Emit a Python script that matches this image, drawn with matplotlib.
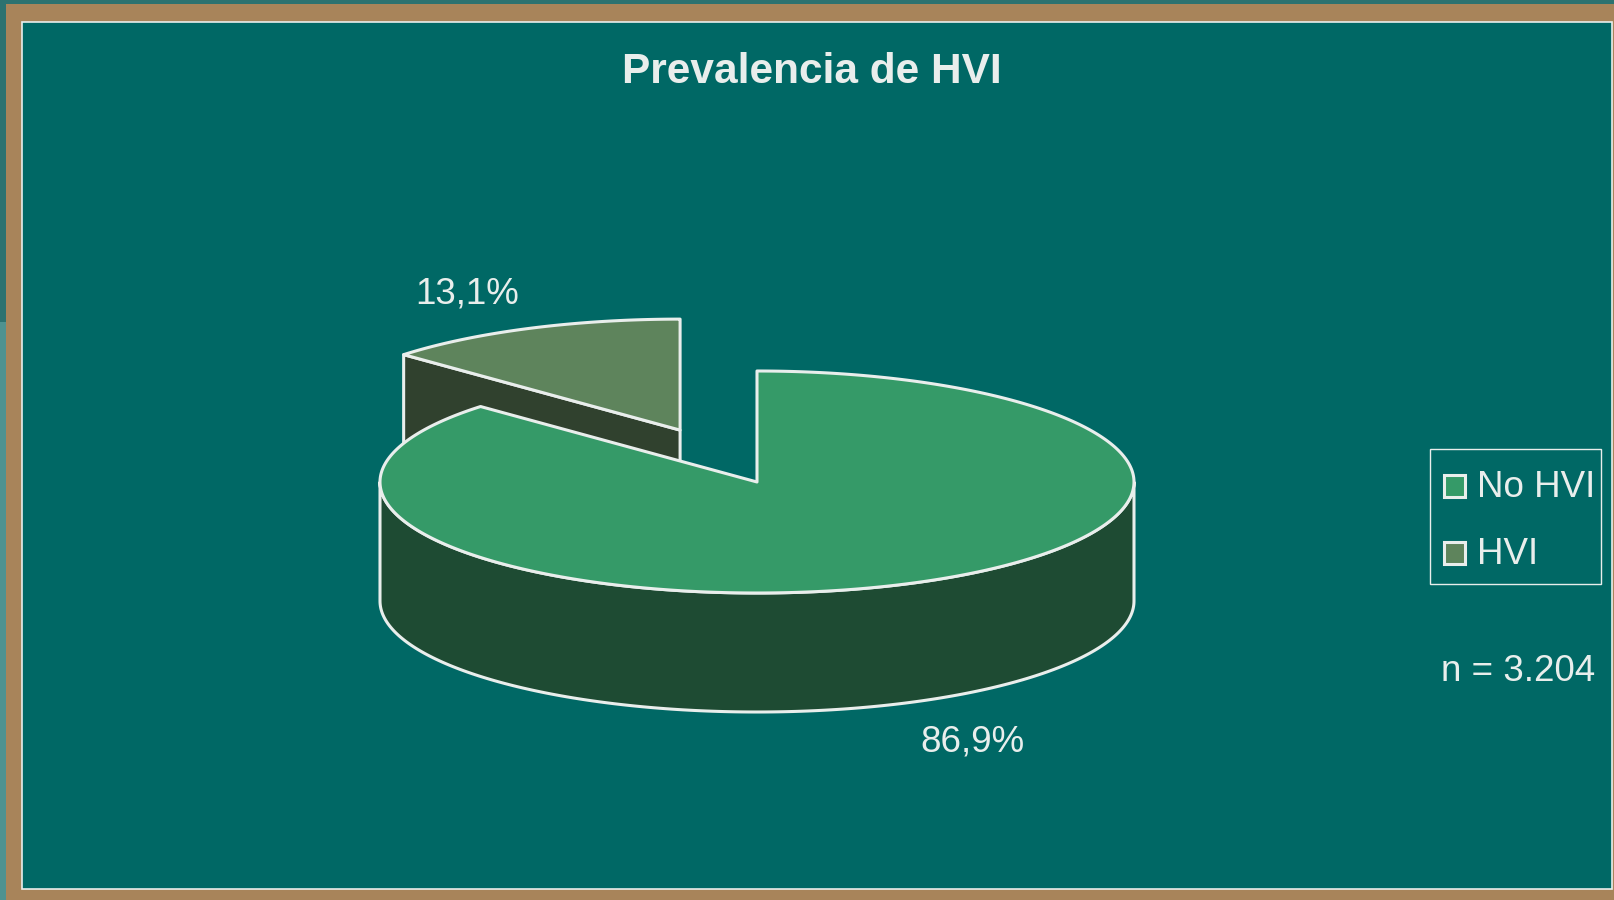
import numpy as np
import matplotlib
matplotlib.use("Agg")
import matplotlib.pyplot as plt
from matplotlib.patches import Polygon, Rectangle
from matplotlib import font_manager

# ---------------- data ----------------
title = "Prevalencia de HVI"
categories = ["No HVI", "HVI"]
values = [86.9, 13.1]
value_labels = ["86,9%", "13,1%"]
sample_note = "n = 3.204"
explode = [0.0, 0.51]

colors_top = ["#359A68", "#5E845C"]
colors_side = ["#1E4B33", "#30412E"]
BG = "#006865"
TAN = "#A8845A"
LINE = "#E9EEEC"
TXT = "#E9EEEC"

# ---------------- fonts ----------------
names = {f.name for f in font_manager.fontManager.ttflist}
if "Liberation Sans Narrow" in names:
    NARROW = ["Liberation Sans Narrow", "DejaVu Sans"]
    LBL_SIZE = 30
else:
    NARROW = ["Liberation Sans", "DejaVu Sans"]
    LBL_SIZE = 26.5
BOLD = ["Liberation Sans", "DejaVu Sans"]

W, H = 1614, 900
fig = plt.figure(figsize=(W / 100, H / 100), dpi=100, facecolor=TAN)
ax = fig.add_axes([0, 0, 1, 1])
ax.set_xlim(0, W)
ax.set_ylim(H, 0)
ax.axis("off")

# ---------------- slide frame ----------------
ax.add_patch(Rectangle((0, 0), W, 4, facecolor="#2C7270", edgecolor="none"))
ax.add_patch(Rectangle((0, 0), 6, 322, facecolor="#2C7270", edgecolor="none"))
ax.add_patch(Rectangle((0, 322), 6, H - 322, facecolor="#4F9290", edgecolor="none"))
ax.add_patch(Rectangle((21.5, 21.5), 1612 - 21.5, 889 - 21.5,
                       facecolor=BG, edgecolor=LINE, lw=1.2))

# ---------------- 3D pie ----------------
cx, cy, rx, ry, depth = 757, 482, 377, 111, 119


def proj(theta, r=1.0, z=0.0, off=(0.0, 0.0)):
    t = np.radians(theta)
    return (off[0] + cx + r * rx * np.cos(t),
            off[1] + cy - r * ry * np.sin(t) + z)


fracs = np.array(values) / np.sum(values)
spans = fracs * 360.0
a0s = 90.0 - np.concatenate([[0], np.cumsum(spans)[:-1]])
a1s = a0s - spans
mids = (a0s + a1s) / 2

order = np.argsort(-np.sin(np.radians(mids)))  # back slices first
lw = 2.2
for i in order:
    a0, a1, m = a0s[i], a1s[i], mids[i]
    off = (explode[i] * rx * np.cos(np.radians(m)),
           -explode[i] * ry * np.sin(np.radians(m)))
    apex = proj(0, r=0, off=off)
    # cut faces facing viewer
    for ang, nrm in ((a0, a0 + 90), (a1, a1 - 90)):
        if np.sin(np.radians(nrm)) < -1e-6:
            p = proj(ang, off=off)
            pts = [apex, p, (p[0], p[1] + depth), (apex[0], apex[1] + depth)]
            ax.add_patch(Polygon(pts, closed=True, facecolor=colors_side[i],
                                 edgecolor=LINE, lw=lw, joinstyle="round"))
    # outer curved side (front half only)
    for k in range(-2, 3):
        lo = max(a1, -180 + 360 * k)
        hi = min(a0, 0 + 360 * k)
        if hi - lo > 0.01:
            th = np.linspace(lo, hi, 200)
            top = [proj(t, off=off) for t in th]
            bot = [proj(t, z=depth, off=off) for t in th[::-1]]
            ax.add_patch(Polygon(top + bot, closed=True, facecolor=colors_side[i],
                                 edgecolor=LINE, lw=lw, joinstyle="round"))
    # top face
    th = np.linspace(a1, a0, 400)
    pts = [apex] + [proj(t, off=off) for t in th]
    ax.add_patch(Polygon(pts, closed=True, facecolor=colors_top[i],
                         edgecolor=LINE, lw=lw, joinstyle="round"))

# ---------------- texts ----------------
ax.text(812, 83, title, ha="center", va="baseline", fontsize=30.5,
        fontweight="bold", color=TXT, family=BOLD)

label_pos = [(972, 752), (467, 304)]
for (x, y), lab in zip(label_pos, value_labels):
    ax.text(x, y, lab, ha="center", va="baseline", fontsize=LBL_SIZE,
            color=TXT, family=NARROW)

ax.text(1595, 681, sample_note, ha="right", va="baseline", fontsize=LBL_SIZE,
        color=TXT, family=NARROW)

# ---------------- legend ----------------
ax.add_patch(Rectangle((1430, 449), 171, 135, facecolor="none",
                       edgecolor=LINE, lw=1.0))
leg_y = [474, 541]
for i, cat in enumerate(categories):
    ax.add_patch(Rectangle((1444, leg_y[i] + 1), 21, 22, facecolor=colors_top[i],
                           edgecolor=LINE, lw=2.2))
    ax.text(1477, leg_y[i] + 23, cat, ha="left", va="baseline",
            fontsize=LBL_SIZE, color=TXT, family=NARROW)

fig.savefig("out.png", dpi=100, facecolor=TAN)
